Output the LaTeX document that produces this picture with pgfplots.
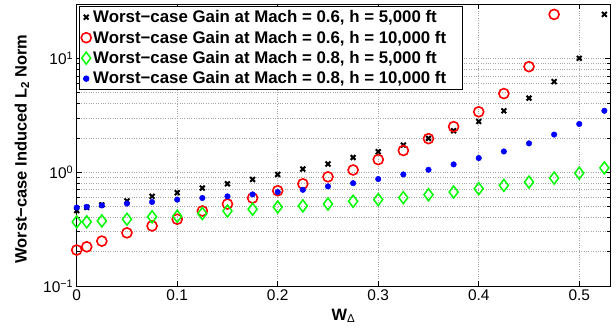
\documentclass[border=0pt]{standalone}
\usepackage{pgfplots}
\pgfplotsset{compat=1.18}
\usepackage{fontspec}
\setmainfont{Liberation Sans}
\begin{document}
\begin{tikzpicture}
\pgfplotsset{mk/.style={only marks, legend image code/.code={\draw[mark repeat=2,mark phase=2,##1] plot coordinates {(0bp,0bp) (14bp,0bp) (28bp,0bp)};}}}
\begin{axis}[
  at={(0,0)}, anchor=south west,
  scale only axis, width=533.3bp, height=282bp,
  ymode=log, xmin=0, xmax=0.5306, ymin=0.1, ymax=30,
  xtick={0,0.1,0.2,0.3,0.4,0.5}, xticklabels={0,0.1,0.2,0.3,0.4,0.5},
  ytick={0.1,1,10}, yticklabels={10\textsuperscript{−1},10\textsuperscript{0},10\textsuperscript{1}},
  tick label style={font=\fontsize{15.5}{15.5}\selectfont},
  grid=both,
  major grid style={gray!70, dotted, line width=0.6pt},
  minor grid style={gray!70, dotted, line width=0.6pt},
  axis line style={line width=0.8pt},
  tick style={black, line width=0.6pt},
  major tick length=5bp, minor tick length=3bp,
  xlabel={\textbf{W}\textsubscript{Δ}},
  ylabel={\textbf{Worst−case Induced L\textsubscript{2} Norm}},
  xlabel style={at={(axis description cs:0.5,-0.106)}, anchor=center, font=\fontsize{16.5}{16.5}\selectfont},
  ylabel style={at={(axis description cs:-0.1026,0.486)}, anchor=center, font=\fontsize{16.5}{16.5}\selectfont},
  clip=false,
  legend style={at={(axis description cs:0.004,0.993)}, anchor=north west,
    font=\bfseries\fontsize{16.9}{18}\selectfont, draw=black, line width=0.8pt,
    row sep=2.8bp, inner sep=2pt},
  legend cell align=left,
]
\addplot[mk, mark=x, mark size=3.4bp, black, line width=2pt] coordinates {
(0,0.46) (0.01,0.49) (0.025,0.515) (0.05,0.558) (0.075,0.613) (0.1,0.66)
(0.125,0.725) (0.15,0.79) (0.175,0.863) (0.2,0.955) (0.225,1.065) (0.25,1.18)
(0.275,1.345) (0.3,1.51) (0.325,1.73) (0.35,1.98) (0.375,2.31) (0.4,2.79)
(0.425,3.46) (0.45,4.47) (0.475,6.24) (0.5,10.0) (0.525,24.3)};
\addlegendentry{Worst−case Gain at Mach = 0.6, h = 5,000 ft}
\addplot[mk, mark=o, mark size=5bp, red, line width=1.6pt] coordinates {
(0,0.207) (0.01,0.221) (0.025,0.248) (0.05,0.293) (0.075,0.337) (0.1,0.386)
(0.125,0.456) (0.15,0.525) (0.175,0.593) (0.2,0.687) (0.225,0.79) (0.25,0.91)
(0.275,1.045) (0.3,1.29) (0.325,1.55) (0.35,1.97) (0.375,2.51) (0.4,3.39)
(0.425,4.9) (0.45,8.45) (0.475,24.3)};
\addlegendentry{Worst−case Gain at Mach = 0.6, h = 10,000 ft\hspace*{12bp}}
\addplot[mk, mark=diamond, mark size=6bp, color={rgb,1:red,0;green,1;blue,0}, line width=1.5pt] coordinates {
(0,0.366) (0.01,0.366) (0.025,0.373) (0.05,0.386) (0.075,0.405) (0.1,0.41)
(0.125,0.433) (0.15,0.456) (0.175,0.472) (0.2,0.494) (0.225,0.505) (0.25,0.525)
(0.275,0.555) (0.3,0.574) (0.325,0.597) (0.35,0.634) (0.375,0.669) (0.4,0.716)
(0.425,0.765) (0.45,0.818) (0.475,0.887) (0.5,0.98) (0.525,1.09)};
\addlegendentry{Worst−case Gain at Mach = 0.8, h = 5,000 ft}
\addplot[mk, mark=*, mark size=2.8bp, blue, mark options={fill=blue, draw=blue}] coordinates {
(0,0.489) (0.01,0.495) (0.025,0.51) (0.05,0.53) (0.075,0.547) (0.1,0.574)
(0.125,0.593) (0.15,0.613) (0.175,0.638) (0.2,0.669) (0.225,0.70) (0.25,0.75)
(0.275,0.80) (0.3,0.87) (0.325,0.955) (0.35,1.05) (0.375,1.17) (0.4,1.33)
(0.425,1.52) (0.45,1.79) (0.475,2.14) (0.5,2.65) (0.525,3.46)};
\addlegendentry{Worst−case Gain at Mach = 0.8, h = 10,000 ft\hspace*{12bp}}
\end{axis}
\pgfresetboundingbox
\path[use as bounding box] (-76.7bp,-45bp) rectangle (539.3bp,286bp);
\end{tikzpicture}
\end{document}
